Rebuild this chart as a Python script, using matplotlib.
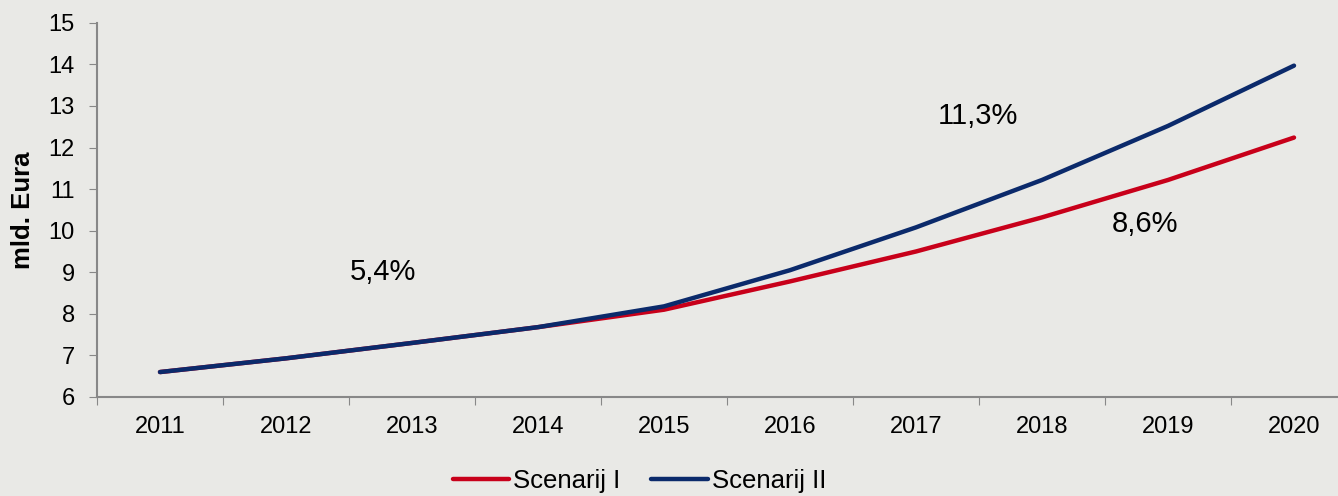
import matplotlib.pyplot as plt
import numpy as np

plt.rcParams['font.family'] = ['Liberation Sans', 'DejaVu Sans']

# ---- data ----
years = ['2011', '2012', '2013', '2014', '2015', '2016', '2017', '2018', '2019', '2020']
scenarij_1 = [6.6, 6.93, 7.3, 7.68, 8.1, 8.78, 9.5, 10.32, 11.22, 12.24]
scenarij_2 = [6.6, 6.93, 7.3, 7.68, 8.18, 9.05, 10.08, 11.22, 12.52, 13.97]
labels = ['Scenarij I', 'Scenarij II']
rates = ['5,4%', '11,3%', '8,6%']

red = '#c8001a'
navy = '#0b2a6b'
bg = '#e9e9e6'

fig = plt.figure(figsize=(13.38, 4.96), dpi=100, facecolor=bg)
ax = fig.add_axes([0.0725, 0.1996, 1.0142 - 0.0725, 0.954 - 0.1996])
ax.set_facecolor(bg)

x = np.arange(len(years))
ax.plot(x, scenarij_1, color=red, lw=3.2, solid_capstyle='round', label=labels[0])
ax.plot(x, scenarij_2, color=navy, lw=3.2, solid_capstyle='round', label=labels[1])

ax.set_xlim(-0.5, 9.5)
ax.set_ylim(6, 15)
ax.set_yticks(range(6, 16))
ax.tick_params(axis='y', labelsize=17, length=6, color='#888888', pad=10)

ax.set_xticks(np.arange(-0.5, 10, 1))
ax.set_xticklabels([])
ax.tick_params(axis='x', which='major', length=6, color='#888888')
ax.set_xticks(x, minor=True)
ax.set_xticklabels(years, minor=True)
ax.tick_params(axis='x', which='minor', length=0, labelsize=17, pad=14)

for s in ['top', 'right']:
    ax.spines[s].set_visible(False)
for s in ['left', 'bottom']:
    ax.spines[s].set_color('#888888')
    ax.spines[s].set_linewidth(1.5)

ax.set_ylabel('mld. Eura', fontsize=18.5, fontweight='bold', labelpad=10)

ax.text(1.77, 9.0, rates[0], fontsize=21, ha='center', va='center')
ax.text(6.49, 12.76, rates[1], fontsize=21, ha='center', va='center')
ax.text(7.82, 10.16, rates[2], fontsize=21, ha='center', va='center')

fig.legend(loc='lower center', bbox_to_anchor=(0.478, -0.04), ncol=2, frameon=False,
           fontsize=18.5, handlelength=2.2, handletextpad=0.15, columnspacing=1.2)

fig.savefig('out.png', dpi=100, facecolor=bg)
